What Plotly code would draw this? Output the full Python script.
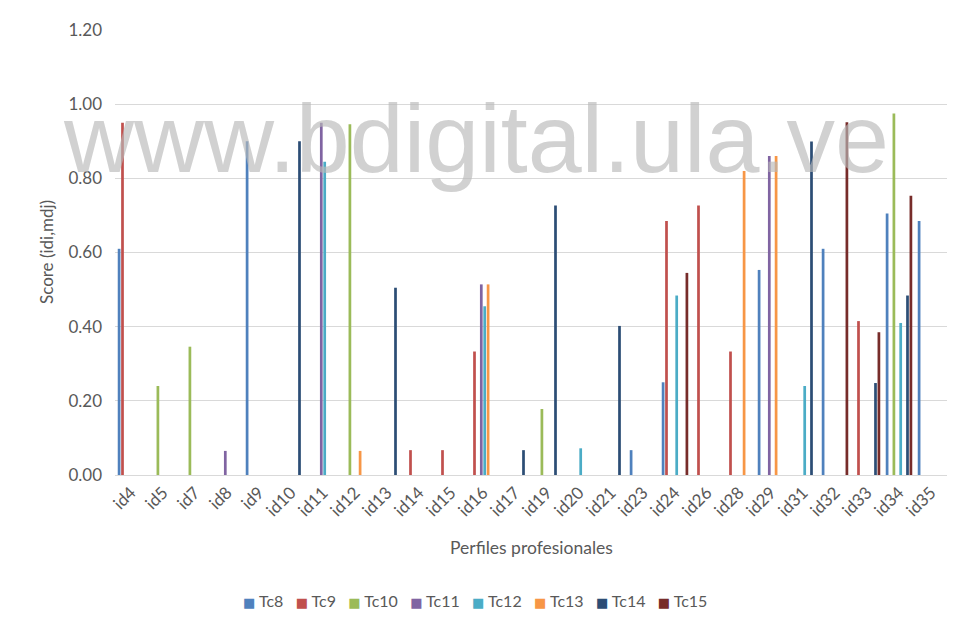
import plotly.graph_objects as go

COLORS = {
    "Tc8": "#4F81BD",
    "Tc9": "#C0504D",
    "Tc10": "#9BBB59",
    "Tc11": "#8064A2",
    "Tc12": "#4BACC6",
    "Tc13": "#F79646",
    "Tc14": "#2C4D75",
    "Tc15": "#772C2A",
}

perfiles = ["id4", "id5", "id7", "id8", "id9", "id10", "id11", "id12", "id13",
            "id14", "id15", "id16", "id17", "id19", "id20", "id21", "id23",
            "id24", "id26", "id28", "id29", "id31", "id32", "id33", "id34", "id35"]

#            id4   id5   id7   id8   id9   id10  id11  id12  id13  id14  id15  id16  id17
#            id19  id20  id21  id23  id24  id26  id28  id29  id31  id32  id33  id34  id35
tc8 = [0.61, 0, 0, 0, 0.90, 0, 0, 0, 0, 0, 0, 0, 0,
       0, 0, 0, 0.067, 0.25, 0, 0, 0.553, 0, 0.61, 0, 0.705, 0.685]
tc9 = [0.95, 0, 0, 0, 0, 0, 0, 0, 0, 0.067, 0.067, 0.333, 0,
       0, 0, 0, 0, 0.685, 0.727, 0.333, 0, 0, 0, 0.415, 0, 0]
tc10 = [0, 0.24, 0.346, 0, 0, 0, 0, 0.946, 0, 0, 0, 0, 0,
        0.178, 0, 0, 0, 0, 0, 0, 0, 0, 0, 0, 0.975, 0]
tc11 = [0, 0, 0, 0.065, 0, 0, 0.95, 0, 0, 0, 0, 0.514, 0,
        0, 0, 0, 0, 0, 0, 0, 0.86, 0, 0, 0, 0, 0]
tc12 = [0, 0, 0, 0, 0, 0, 0.845, 0, 0, 0, 0, 0.455, 0,
        0, 0.072, 0, 0, 0.484, 0, 0, 0, 0.24, 0, 0, 0.41, 0]
tc13 = [0, 0, 0, 0, 0, 0, 0, 0.065, 0, 0, 0, 0.514, 0,
        0, 0, 0, 0, 0, 0, 0.82, 0.86, 0, 0, 0, 0, 0]
tc14 = [0, 0, 0, 0, 0, 0.90, 0, 0, 0.505, 0, 0, 0, 0.067,
        0.727, 0, 0.402, 0, 0, 0, 0, 0, 0.899, 0, 0.248, 0.484, 0]
tc15 = [0, 0, 0, 0, 0, 0, 0, 0, 0, 0, 0, 0, 0,
        0, 0, 0, 0, 0.545, 0, 0, 0, 0, 0.951, 0.385, 0.753, 0]

series = {"Tc8": tc8, "Tc9": tc9, "Tc10": tc10, "Tc11": tc11,
          "Tc12": tc12, "Tc13": tc13, "Tc14": tc14, "Tc15": tc15}

fig = go.Figure()
for name, vals in series.items():
    fig.add_trace(go.Bar(x=perfiles, y=vals, name=name,
                         marker_color=COLORS[name], marker_line_width=0))

FONT = "Lato, 'Noto Sans', sans-serif"
GREY = "#595959"

# la pagina tiene 8px de margen en el body: todo se corre 8px
OFF = 8
# area del grafico en pixeles de la captura: x 115..947, y 30..475
L, R, T, B = 115 - OFF, 947 - OFF, 30 - OFF, 475 - OFF
FW, FH = 956 - OFF, 623 - OFF
W, H = R - L, B - T

fig.update_layout(
    width=FW, height=FH,
    barmode="group", bargap=0.15, bargroupgap=0.2,
    plot_bgcolor="white", paper_bgcolor="white",
    margin={"l": L, "r": FW - R, "t": T, "b": FH - B},
    font=dict(family=FONT, size=17, color=GREY),
    showlegend=False,
)
fig.update_yaxes(range=[0, 1.2], dtick=0.2, tickformat=".2f",
                 gridcolor="#d9d9d9", gridwidth=1, zeroline=False,
                 showline=False, ticklabelstandoff=12, automargin=False)
fig.update_xaxes(tickangle=-45, showline=True, linecolor="#d9d9d9",
                 linewidth=1, ticks="", automargin=False)

# titulos de ejes
fig.add_annotation(text="Score (idi,mdj)", xref="paper", yref="paper",
                   x=(47 - OFF - L) / W, y=(B - (252 - OFF)) / H, textangle=-90,
                   xanchor="center", yanchor="middle", showarrow=False,
                   font=dict(size=17, color=GREY))
fig.add_annotation(text="Perfiles profesionales", xref="paper", yref="paper",
                   x=(531 - OFF - L) / W, y=(B - (547 - OFF)) / H,
                   xanchor="center", yanchor="middle", showarrow=False,
                   font=dict(size=17.5, color=GREY))

# leyenda compacta como en Excel (cuadrito + nombre)
sep = "&nbsp;" * 3
items = [f"<span style=\"color:{COLORS[n]};font-family:'DejaVu Sans';font-size:13px\">■</span> {n}"
         for n in series]
fig.add_annotation(text=sep.join(items), xref="paper", yref="paper",
                   x=(475 - OFF - L) / W, y=(B - (600 - OFF)) / H,
                   xanchor="center", yanchor="middle", showarrow=False,
                   font=dict(size=16, color=GREY))

# marca de agua del repositorio
fig.add_annotation(text="www.bdigital.ula.ve", xref="paper", yref="paper",
                   x=(476 - OFF - L) / W, y=(B - (138 - OFF)) / H,
                   xanchor="center", yanchor="middle", showarrow=False,
                   font=dict(family="'Liberation Sans', Arial", size=97,
                             color="rgba(185,185,185,0.65)"))

fig.write_html("out.html")
